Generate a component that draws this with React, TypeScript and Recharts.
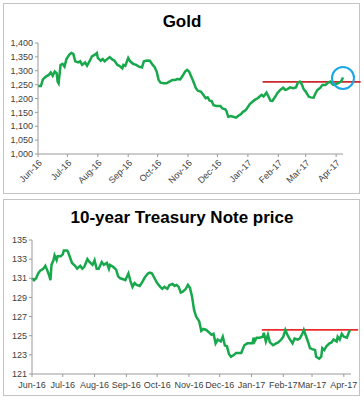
import React from "react";
import {
  LineChart,
  Line,
  XAxis,
  YAxis,
  ReferenceLine,
  ReferenceDot,
} from "recharts";

// days counted from 1 Jun 2016
const monthTicks = [0, 30, 61, 92, 122, 153, 183, 214, 245, 273, 304];
const monthLabels = [
  "Jun-16", "Jul-16", "Aug-16", "Sep-16", "Oct-16", "Nov-16",
  "Dec-16", "Jan-17", "Feb-17", "Mar-17", "Apr-17",
];

const goldDays = [
  0, 3, 5, 8, 11, 13, 15, 17, 19, 20, 21, 23, 25, 27, 29, 32, 34, 36, 38, 41,
  43, 45, 48, 50, 53, 55, 58, 60, 61, 64, 66, 68, 70, 73, 76, 78, 81, 83, 86, 87,
  89, 92, 94, 97, 100, 103, 106, 108, 111, 114, 117, 119, 121, 123, 125, 128,
  131, 134, 137, 140, 142, 145, 147, 150, 152, 154, 157, 158, 161, 163, 166, 168,
  171, 173, 175, 177, 179, 182, 186, 188, 191, 192, 194, 197, 199, 202, 204, 207,
  209, 211, 213, 216, 219, 221, 224, 226, 228, 230, 233, 235, 237, 239, 242, 244,
  247, 250, 252, 254, 257, 260, 263, 265, 267, 269, 271, 273, 276, 278, 281, 283,
  285, 288, 290, 293, 295, 298, 301, 303, 306, 309, 311,
];
const goldPrices = [
  1245, 1245, 1269, 1279, 1285, 1294, 1282, 1297, 1291, 1261, 1255, 1321, 1325,
  1315, 1342, 1358, 1364, 1361, 1334, 1330, 1334, 1321, 1330, 1318, 1337, 1352,
  1358, 1364, 1346, 1336, 1342, 1334, 1340, 1349, 1340, 1336, 1321, 1318, 1309,
  1321, 1318, 1346, 1334, 1325, 1321, 1315, 1312, 1334, 1337, 1336, 1321, 1313,
  1297, 1267, 1257, 1255, 1255, 1261, 1267, 1267, 1270, 1269, 1279, 1297, 1303,
  1297, 1273, 1265, 1237, 1228, 1225, 1216, 1201, 1204, 1192, 1191, 1176, 1173,
  1173, 1164, 1161, 1156, 1134, 1137, 1134, 1131, 1137, 1144, 1152, 1156, 1164,
  1180, 1189, 1195, 1201, 1207, 1213, 1207, 1221, 1207, 1192, 1191, 1207, 1219,
  1231, 1239, 1231, 1233, 1240, 1237, 1240, 1257, 1261, 1251, 1233, 1225, 1207,
  1204, 1203, 1219, 1231, 1239, 1249, 1249, 1255, 1261, 1249, 1251, 1255, 1261,
  1276,
];
const goldTicks = [1000, 1050, 1100, 1150, 1200, 1250, 1300, 1350, 1400];
const goldResistance = 1260;

const noteDays = [
  0, 2, 4, 6, 8, 11, 13, 15, 17, 18, 19, 21, 22, 24, 25, 28, 30, 31, 34, 35, 37,
  39, 42, 44, 47, 49, 51, 54, 56, 59, 61, 63, 65, 68, 70, 73, 75, 76, 79, 82, 84,
  86, 89, 91, 94, 96, 98, 100, 102, 105, 108, 110, 113, 115, 117, 120, 122, 125,
  127, 129, 132, 134, 137, 139, 141, 143, 145, 147, 150, 152, 154, 156, 158, 160,
  163, 165, 167, 170, 173, 175, 177, 179, 181, 184, 186, 188, 190, 192, 194, 197,
  199, 202, 204, 207, 210, 212, 215, 216, 217, 219, 222, 225, 226, 228, 230, 232,
  235, 238, 240, 243, 245, 247, 249, 251, 254, 256, 259, 261, 264, 265, 267, 269,
  271, 273, 276, 277, 280, 282, 283, 285, 287, 290, 292, 294, 297, 298, 300, 302,
  304, 307, 308, 310,
];
const notePrices = [
  131.0, 130.8, 131.0, 131.5, 131.8, 132.0, 132.3, 131.8, 131.2, 130.8, 132.4,
  132.9, 133.4, 132.9, 133.3, 133.3, 133.5, 133.9, 133.9, 133.8, 133.2, 132.6,
  132.3, 132.0, 132.3, 132.0, 132.2, 133.0, 132.7, 132.4, 132.9, 132.0, 132.0,
  132.7, 132.4, 132.6, 132.0, 132.4, 132.2, 131.9, 131.2, 131.0, 130.9, 130.8,
  131.5, 130.7, 130.1, 130.5, 130.3, 130.2, 130.7, 131.1, 131.5, 131.6, 131.5,
  130.9, 130.5, 130.1, 129.9, 130.1, 129.9, 130.3, 130.4, 130.2, 130.3, 130.1,
  129.5, 129.6, 129.9, 130.3, 130.0, 129.1, 127.7, 127.0, 126.5, 125.5, 125.7,
  125.6, 125.3, 125.1, 125.2, 124.2, 124.6, 124.4, 124.9, 124.0, 123.9, 123.1,
  122.8, 123.0, 123.2, 123.2, 123.2, 124.0, 124.2, 124.2, 124.2, 124.8, 124.4,
  124.8, 124.8, 124.9, 125.3, 124.4, 125.1, 124.3, 124.0, 124.2, 124.3, 124.6,
  124.9, 125.6, 125.1, 124.7, 124.2, 124.7, 124.6, 124.7, 125.3, 125.6, 125.0,
  124.4, 123.7, 123.6, 123.5, 122.8, 122.6, 122.8, 123.7, 123.5, 123.9, 124.2,
  124.3, 124.6, 124.4, 124.9, 124.6, 125.2, 124.9, 124.8, 125.1, 125.6,
];
const noteTicks = [121, 123, 125, 127, 129, 131, 133, 135];
const noteResistance = 125.6;

const goldData = goldDays.map((d, i) => ({ day: d, price: goldPrices[i] }));
const noteData = noteDays.map((d, i) => ({ day: d, price: notePrices[i] }));

const monthName = (d: number) => monthLabels[monthTicks.indexOf(d)] ?? "";
const font = "'Liberation Sans', Arial, sans-serif";
const tickStyle = { fontSize: 9, fill: "#404040", fontFamily: font };
const axisColor = "#9a9a9a";
const green = "#17a84b";

const panel: React.CSSProperties = {
  position: "absolute",
  left: 3,
  width: 357,
  border: "1px solid #c4c4c4",
  boxSizing: "border-box",
};

const titleStyle: React.CSSProperties = {
  position: "absolute",
  left: 0,
  width: 364,
  textAlign: "center",
  fontFamily: font,
  fontWeight: "bold",
  fontSize: 17,
  color: "#000",
  lineHeight: "20px",
};

export default function App() {
  return (
    <div
      style={{
        position: "absolute",
        left: 0,
        top: 0,
        width: 364,
        height: 400,
        background: "#fff",
        overflow: "hidden",
      }}
    >
      <div style={{ ...panel, top: 3, height: 191 }} />
      <div style={{ ...panel, top: 199, height: 197 }} />

      <div style={{ ...titleStyle, top: 12 }}>Gold</div>
      <div style={{ position: "absolute", left: 0, top: 0 }}>
        <LineChart
          width={364}
          height={198}
          data={goldData}
          margin={{ top: 43, right: 21, left: 0, bottom: 0 }}
        >
          <XAxis
            dataKey="day"
            type="number"
            domain={[0, 311]}
            ticks={monthTicks}
            tickFormatter={monthName}
            interval={0}
            angle={-45}
            textAnchor="end"
            height={44}
            tick={tickStyle}
            tickSize={3}
            stroke={axisColor}
          />
          <YAxis
            type="number"
            domain={[1000, 1400]}
            ticks={goldTicks}
            interval={0}
            width={38}
            tick={tickStyle}
            tickSize={3}
            tickFormatter={(v: number) => v.toLocaleString("en-US")}
            stroke={axisColor}
          />
          <ReferenceLine
            segment={[
              { x: 229, y: goldResistance },
              { x: 329, y: goldResistance },
            ]}
            stroke="#c9282d"
            strokeWidth={1.8}
            ifOverflow="visible"
          />
          <Line
            type="linear"
            dataKey="price"
            stroke={green}
            strokeWidth={2.5}
            dot={false}
            isAnimationActive={false}
          />
          <ReferenceDot
            x={311}
            y={1274}
            r={11}
            fill="none"
            stroke="#1ba6e6"
            strokeWidth={2}
            ifOverflow="visible"
          />
        </LineChart>
      </div>

      <div style={{ ...titleStyle, top: 208 }}>10-year Treasury Note price</div>
      <div style={{ position: "absolute", left: 0, top: 200 }}>
        <LineChart
          width={364}
          height={196}
          data={noteData}
          margin={{ top: 40, right: 13, left: 0, bottom: 0 }}
        >
          <XAxis
            dataKey="day"
            type="number"
            domain={[0, 311]}
            ticks={monthTicks}
            tickFormatter={monthName}
            interval={0}
            height={22}
            tick={{ ...tickStyle, dy: 3 }}
            tickSize={3}
            stroke={axisColor}
          />
          <YAxis
            type="number"
            domain={[121, 135]}
            ticks={noteTicks}
            interval={0}
            width={32}
            tick={tickStyle}
            tickSize={3}
            stroke={axisColor}
          />
          <ReferenceLine
            segment={[
              { x: 224, y: noteResistance },
              { x: 318, y: noteResistance },
            ]}
            stroke="#ee2b2b"
            strokeWidth={1.8}
            ifOverflow="visible"
          />
          <Line
            type="linear"
            dataKey="price"
            stroke={green}
            strokeWidth={2.5}
            dot={false}
            isAnimationActive={false}
          />
        </LineChart>
      </div>
    </div>
  );
}
